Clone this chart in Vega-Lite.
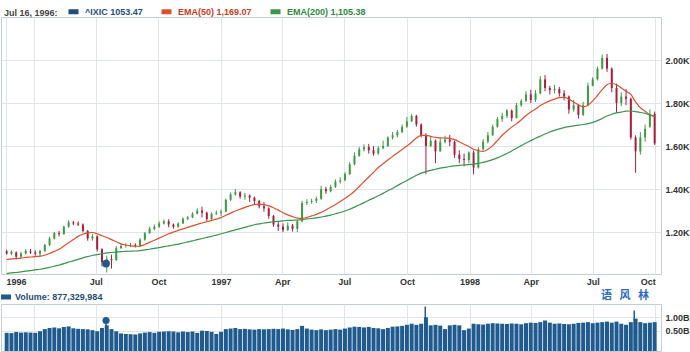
{
"$schema": "https://vega.github.io/schema/vega-lite/v6.json",
"padding": {"left": 0, "top": 4, "right": 2, "bottom": 0},
"background": "white",
"spacing": 2,
"config": {
  "font": "Liberation Sans",
  "view": {"stroke": "#c5ced6"},
  "axis": {"labelFont": "Liberation Sans", "labelFontSize": 9, "labelFontWeight": "bold", "labelColor": "#333333", "gridColor": "#dfe5ea", "gridOpacity": 1, "domain": false, "ticks": false, "title": null},
  "legend": {"labelFont": "Liberation Sans", "titleFont": "Liberation Sans", "padding": 0}
},
"datasets": {
"w": [
{"d":"1996/02/21","o":1110,"h":1118,"l":1095,"c":1100,"v":420,"e50":1072,"e200":1007},
{"d":"1996/02/28","o":1100,"h":1115,"l":1092,"c":1108,"v":410,"e50":1075,"e200":1010},
{"d":"1996/03/06","o":1105,"h":1110,"l":1072,"c":1085,"v":450,"e50":1077,"e200":1012},
{"d":"1996/03/13","o":1085,"h":1108,"l":1078,"c":1100,"v":430,"e50":1079,"e200":1015},
{"d":"1996/03/20","o":1100,"h":1120,"l":1095,"c":1112,"v":440,"e50":1082,"e200":1018},
{"d":"1996/03/27","o":1110,"h":1122,"l":1098,"c":1105,"v":430,"e50":1084,"e200":1021},
{"d":"1996/04/03","o":1105,"h":1115,"l":1090,"c":1100,"v":420,"e50":1086,"e200":1024},
{"d":"1996/04/10","o":1100,"h":1118,"l":1085,"c":1112,"v":480,"e50":1088,"e200":1027},
{"d":"1996/04/17","o":1112,"h":1145,"l":1108,"c":1140,"v":560,"e50":1092,"e200":1031},
{"d":"1996/04/24","o":1140,"h":1178,"l":1135,"c":1170,"v":600,"e50":1100,"e200":1036},
{"d":"1996/05/01","o":1170,"h":1200,"l":1165,"c":1195,"v":620,"e50":1110,"e200":1041},
{"d":"1996/05/08","o":1195,"h":1205,"l":1180,"c":1190,"v":590,"e50":1120,"e200":1047},
{"d":"1996/05/15","o":1190,"h":1230,"l":1188,"c":1225,"v":640,"e50":1135,"e200":1053},
{"d":"1996/05/22","o":1225,"h":1255,"l":1220,"c":1245,"v":660,"e50":1150,"e200":1060},
{"d":"1996/05/29","o":1245,"h":1252,"l":1232,"c":1240,"v":590,"e50":1165,"e200":1066},
{"d":"1996/06/05","o":1240,"h":1250,"l":1228,"c":1235,"v":570,"e50":1180,"e200":1073},
{"d":"1996/06/12","o":1235,"h":1240,"l":1198,"c":1205,"v":560,"e50":1190,"e200":1080},
{"d":"1996/06/19","o":1205,"h":1210,"l":1160,"c":1170,"v":550,"e50":1196,"e200":1086},
{"d":"1996/06/26","o":1170,"h":1190,"l":1160,"c":1180,"v":520,"e50":1198,"e200":1091},
{"d":"1996/07/03","o":1180,"h":1185,"l":1110,"c":1120,"v":480,"e50":1192,"e200":1095},
{"d":"1996/07/10","o":1120,"h":1125,"l":1040,"c":1060,"v":600,"e50":1183,"e200":1099},
{"d":"1996/07/17","o":1060,"h":1090,"l":1012,"c":1075,"v":700,"e50":1175,"e200":1103},
{"d":"1996/07/24","o":1075,"h":1095,"l":1030,"c":1070,"v":560,"e50":1165,"e200":1105},
{"d":"1996/07/31","o":1070,"h":1135,"l":1065,"c":1125,"v":480,"e50":1155,"e200":1107},
{"d":"1996/08/07","o":1125,"h":1145,"l":1122,"c":1135,"v":400,"e50":1145,"e200":1109},
{"d":"1996/08/14","o":1135,"h":1148,"l":1128,"c":1138,"v":380,"e50":1140,"e200":1110},
{"d":"1996/08/21","o":1138,"h":1150,"l":1130,"c":1140,"v":370,"e50":1136,"e200":1111},
{"d":"1996/08/28","o":1140,"h":1148,"l":1128,"c":1135,"v":360,"e50":1134,"e200":1112},
{"d":"1996/09/04","o":1135,"h":1172,"l":1130,"c":1165,"v":400,"e50":1135,"e200":1114},
{"d":"1996/09/11","o":1165,"h":1200,"l":1160,"c":1195,"v":430,"e50":1142,"e200":1117},
{"d":"1996/09/18","o":1195,"h":1225,"l":1192,"c":1215,"v":450,"e50":1152,"e200":1120},
{"d":"1996/09/25","o":1215,"h":1235,"l":1208,"c":1225,"v":420,"e50":1162,"e200":1124},
{"d":"1996/10/02","o":1225,"h":1250,"l":1220,"c":1240,"v":460,"e50":1172,"e200":1128},
{"d":"1996/10/09","o":1240,"h":1258,"l":1235,"c":1250,"v":470,"e50":1182,"e200":1132},
{"d":"1996/10/16","o":1250,"h":1260,"l":1222,"c":1235,"v":480,"e50":1192,"e200":1136},
{"d":"1996/10/23","o":1235,"h":1240,"l":1215,"c":1225,"v":470,"e50":1200,"e200":1140},
{"d":"1996/10/30","o":1225,"h":1245,"l":1220,"c":1240,"v":440,"e50":1208,"e200":1144},
{"d":"1996/11/06","o":1240,"h":1268,"l":1238,"c":1262,"v":470,"e50":1215,"e200":1149},
{"d":"1996/11/13","o":1262,"h":1275,"l":1255,"c":1268,"v":450,"e50":1222,"e200":1154},
{"d":"1996/11/20","o":1268,"h":1292,"l":1265,"c":1285,"v":470,"e50":1229,"e200":1159},
{"d":"1996/11/27","o":1285,"h":1310,"l":1282,"c":1300,"v":420,"e50":1236,"e200":1165},
{"d":"1996/12/04","o":1300,"h":1318,"l":1268,"c":1290,"v":500,"e50":1242,"e200":1170},
{"d":"1996/12/11","o":1290,"h":1295,"l":1250,"c":1260,"v":490,"e50":1248,"e200":1175},
{"d":"1996/12/18","o":1260,"h":1292,"l":1255,"c":1285,"v":460,"e50":1254,"e200":1180},
{"d":"1996/12/25","o":1285,"h":1300,"l":1280,"c":1290,"v":380,"e50":1260,"e200":1186},
{"d":"1997/01/01","o":1290,"h":1305,"l":1275,"c":1295,"v":460,"e50":1267,"e200":1192},
{"d":"1997/01/08","o":1295,"h":1355,"l":1292,"c":1350,"v":560,"e50":1278,"e200":1198},
{"d":"1997/01/15","o":1350,"h":1385,"l":1345,"c":1375,"v":580,"e50":1288,"e200":1204},
{"d":"1997/01/22","o":1375,"h":1400,"l":1370,"c":1385,"v":600,"e50":1298,"e200":1210},
{"d":"1997/01/29","o":1385,"h":1390,"l":1355,"c":1365,"v":560,"e50":1306,"e200":1216},
{"d":"1997/02/05","o":1365,"h":1382,"l":1350,"c":1370,"v":570,"e50":1315,"e200":1222},
{"d":"1997/02/12","o":1370,"h":1375,"l":1340,"c":1360,"v":550,"e50":1322,"e200":1228},
{"d":"1997/02/19","o":1360,"h":1365,"l":1330,"c":1345,"v":540,"e50":1328,"e200":1234},
{"d":"1997/02/26","o":1345,"h":1350,"l":1310,"c":1320,"v":560,"e50":1330,"e200":1238},
{"d":"1997/03/05","o":1320,"h":1340,"l":1295,"c":1310,"v":550,"e50":1328,"e200":1242},
{"d":"1997/03/12","o":1310,"h":1315,"l":1262,"c":1275,"v":560,"e50":1322,"e200":1245},
{"d":"1997/03/19","o":1275,"h":1280,"l":1225,"c":1235,"v":570,"e50":1313,"e200":1248},
{"d":"1997/03/26","o":1235,"h":1250,"l":1205,"c":1225,"v":560,"e50":1302,"e200":1250},
{"d":"1997/04/02","o":1225,"h":1240,"l":1200,"c":1210,"v":580,"e50":1290,"e200":1252},
{"d":"1997/04/09","o":1210,"h":1245,"l":1205,"c":1230,"v":550,"e50":1280,"e200":1254},
{"d":"1997/04/16","o":1230,"h":1238,"l":1202,"c":1215,"v":530,"e50":1272,"e200":1255},
{"d":"1997/04/23","o":1215,"h":1258,"l":1200,"c":1250,"v":560,"e50":1265,"e200":1256},
{"d":"1997/04/30","o":1250,"h":1345,"l":1245,"c":1335,"v":680,"e50":1263,"e200":1258},
{"d":"1997/05/07","o":1335,"h":1352,"l":1325,"c":1340,"v":580,"e50":1268,"e200":1261},
{"d":"1997/05/14","o":1340,"h":1355,"l":1332,"c":1345,"v":540,"e50":1275,"e200":1263},
{"d":"1997/05/21","o":1345,"h":1365,"l":1335,"c":1355,"v":520,"e50":1282,"e200":1266},
{"d":"1997/05/28","o":1355,"h":1415,"l":1350,"c":1400,"v":550,"e50":1292,"e200":1270},
{"d":"1997/06/04","o":1400,"h":1410,"l":1378,"c":1390,"v":520,"e50":1303,"e200":1274},
{"d":"1997/06/11","o":1390,"h":1420,"l":1385,"c":1410,"v":540,"e50":1315,"e200":1279},
{"d":"1997/06/18","o":1410,"h":1445,"l":1405,"c":1435,"v":560,"e50":1328,"e200":1285},
{"d":"1997/06/25","o":1435,"h":1455,"l":1425,"c":1440,"v":540,"e50":1342,"e200":1291},
{"d":"1997/07/02","o":1440,"h":1478,"l":1438,"c":1470,"v":580,"e50":1356,"e200":1298},
{"d":"1997/07/09","o":1470,"h":1525,"l":1465,"c":1515,"v":620,"e50":1372,"e200":1306},
{"d":"1997/07/16","o":1515,"h":1570,"l":1510,"c":1555,"v":650,"e50":1390,"e200":1316},
{"d":"1997/07/23","o":1555,"h":1595,"l":1550,"c":1585,"v":640,"e50":1412,"e200":1326},
{"d":"1997/07/30","o":1585,"h":1608,"l":1575,"c":1595,"v":620,"e50":1434,"e200":1337},
{"d":"1997/08/06","o":1595,"h":1610,"l":1565,"c":1580,"v":640,"e50":1456,"e200":1348},
{"d":"1997/08/13","o":1580,"h":1600,"l":1555,"c":1565,"v":600,"e50":1478,"e200":1358},
{"d":"1997/08/20","o":1565,"h":1600,"l":1560,"c":1590,"v":590,"e50":1500,"e200":1369},
{"d":"1997/08/27","o":1590,"h":1625,"l":1585,"c":1600,"v":560,"e50":1518,"e200":1380},
{"d":"1997/09/03","o":1600,"h":1645,"l":1595,"c":1640,"v":600,"e50":1535,"e200":1392},
{"d":"1997/09/10","o":1640,"h":1665,"l":1630,"c":1650,"v":650,"e50":1552,"e200":1403},
{"d":"1997/09/17","o":1650,"h":1675,"l":1640,"c":1665,"v":660,"e50":1568,"e200":1416},
{"d":"1997/09/24","o":1665,"h":1700,"l":1660,"c":1690,"v":680,"e50":1584,"e200":1428},
{"d":"1997/10/01","o":1690,"h":1735,"l":1685,"c":1715,"v":720,"e50":1600,"e200":1440},
{"d":"1997/10/08","o":1715,"h":1748,"l":1712,"c":1740,"v":760,"e50":1618,"e200":1452},
{"d":"1997/10/15","o":1740,"h":1745,"l":1690,"c":1700,"v":720,"e50":1637,"e200":1464},
{"d":"1997/10/22","o":1700,"h":1705,"l":1640,"c":1650,"v":760,"e50":1650,"e200":1474},
{"d":"1997/10/29","o":1650,"h":1660,"l":1470,"c":1600,"v":1000,"e50":1650,"e200":1481},
{"d":"1997/11/05","o":1600,"h":1645,"l":1595,"c":1625,"v":700,"e50":1645,"e200":1487},
{"d":"1997/11/12","o":1625,"h":1630,"l":1520,"c":1575,"v":720,"e50":1640,"e200":1492},
{"d":"1997/11/19","o":1575,"h":1640,"l":1575,"c":1620,"v":690,"e50":1638,"e200":1497},
{"d":"1997/11/26","o":1620,"h":1648,"l":1612,"c":1630,"v":560,"e50":1637,"e200":1501},
{"d":"1997/12/03","o":1630,"h":1652,"l":1600,"c":1620,"v":700,"e50":1636,"e200":1505},
{"d":"1997/12/10","o":1620,"h":1625,"l":1545,"c":1560,"v":720,"e50":1630,"e200":1508},
{"d":"1997/12/17","o":1560,"h":1580,"l":1520,"c":1540,"v":700,"e50":1620,"e200":1510},
{"d":"1997/12/24","o":1540,"h":1565,"l":1505,"c":1535,"v":520,"e50":1608,"e200":1512},
{"d":"1997/12/31","o":1535,"h":1575,"l":1520,"c":1570,"v":580,"e50":1598,"e200":1514},
{"d":"1998/01/07","o":1570,"h":1580,"l":1468,"c":1500,"v":760,"e50":1585,"e200":1516},
{"d":"1998/01/14","o":1500,"h":1595,"l":1495,"c":1585,"v":740,"e50":1578,"e200":1520},
{"d":"1998/01/21","o":1585,"h":1632,"l":1580,"c":1620,"v":730,"e50":1575,"e200":1524},
{"d":"1998/01/28","o":1620,"h":1665,"l":1612,"c":1650,"v":760,"e50":1585,"e200":1530},
{"d":"1998/02/04","o":1650,"h":1700,"l":1648,"c":1690,"v":780,"e50":1602,"e200":1537},
{"d":"1998/02/11","o":1690,"h":1735,"l":1685,"c":1725,"v":770,"e50":1625,"e200":1545},
{"d":"1998/02/18","o":1725,"h":1755,"l":1712,"c":1740,"v":760,"e50":1650,"e200":1555},
{"d":"1998/02/25","o":1740,"h":1772,"l":1730,"c":1765,"v":750,"e50":1670,"e200":1565},
{"d":"1998/03/04","o":1765,"h":1770,"l":1715,"c":1730,"v":770,"e50":1688,"e200":1577},
{"d":"1998/03/11","o":1730,"h":1800,"l":1728,"c":1790,"v":760,"e50":1703,"e200":1590},
{"d":"1998/03/18","o":1790,"h":1818,"l":1782,"c":1810,"v":740,"e50":1722,"e200":1602},
{"d":"1998/03/25","o":1810,"h":1855,"l":1805,"c":1840,"v":780,"e50":1742,"e200":1614},
{"d":"1998/04/01","o":1840,"h":1862,"l":1800,"c":1815,"v":800,"e50":1758,"e200":1625},
{"d":"1998/04/08","o":1815,"h":1860,"l":1805,"c":1845,"v":790,"e50":1772,"e200":1636},
{"d":"1998/04/15","o":1845,"h":1925,"l":1840,"c":1910,"v":820,"e50":1788,"e200":1646},
{"d":"1998/04/22","o":1910,"h":1930,"l":1855,"c":1870,"v":880,"e50":1800,"e200":1656},
{"d":"1998/04/29","o":1870,"h":1880,"l":1840,"c":1860,"v":800,"e50":1810,"e200":1665},
{"d":"1998/05/06","o":1860,"h":1885,"l":1845,"c":1865,"v":760,"e50":1818,"e200":1673},
{"d":"1998/05/13","o":1865,"h":1875,"l":1830,"c":1845,"v":770,"e50":1825,"e200":1680},
{"d":"1998/05/20","o":1845,"h":1860,"l":1812,"c":1830,"v":750,"e50":1826,"e200":1686},
{"d":"1998/05/27","o":1830,"h":1835,"l":1750,"c":1770,"v":740,"e50":1818,"e200":1690},
{"d":"1998/06/03","o":1770,"h":1815,"l":1760,"c":1790,"v":760,"e50":1805,"e200":1694},
{"d":"1998/06/10","o":1790,"h":1795,"l":1728,"c":1745,"v":790,"e50":1792,"e200":1697},
{"d":"1998/06/17","o":1745,"h":1805,"l":1740,"c":1790,"v":800,"e50":1782,"e200":1700},
{"d":"1998/06/24","o":1790,"h":1895,"l":1785,"c":1880,"v":820,"e50":1790,"e200":1704},
{"d":"1998/07/01","o":1880,"h":1920,"l":1878,"c":1910,"v":780,"e50":1810,"e200":1710},
{"d":"1998/07/08","o":1910,"h":1970,"l":1905,"c":1960,"v":800,"e50":1835,"e200":1718},
{"d":"1998/07/15","o":1960,"h":2025,"l":1955,"c":2010,"v":820,"e50":1862,"e200":1728},
{"d":"1998/07/22","o":2010,"h":2028,"l":1945,"c":1960,"v":840,"e50":1885,"e200":1740},
{"d":"1998/07/29","o":1960,"h":1965,"l":1850,"c":1870,"v":800,"e50":1892,"e200":1748},
{"d":"1998/08/05","o":1870,"h":1890,"l":1755,"c":1800,"v":840,"e50":1885,"e200":1754},
{"d":"1998/08/12","o":1800,"h":1850,"l":1785,"c":1830,"v":760,"e50":1870,"e200":1758},
{"d":"1998/08/19","o":1830,"h":1865,"l":1790,"c":1820,"v":720,"e50":1855,"e200":1762},
{"d":"1998/08/26","o":1820,"h":1825,"l":1630,"c":1640,"v":820,"e50":1840,"e200":1763},
{"d":"1998/09/02","o":1640,"h":1650,"l":1475,"c":1575,"v":950,"e50":1805,"e200":1760},
{"d":"1998/09/09","o":1575,"h":1665,"l":1560,"c":1640,"v":820,"e50":1778,"e200":1756},
{"d":"1998/09/16","o":1640,"h":1700,"l":1620,"c":1680,"v":780,"e50":1762,"e200":1752},
{"d":"1998/09/23","o":1690,"h":1770,"l":1685,"c":1750,"v":800,"e50":1745,"e200":1745},
{"d":"1998/09/30","o":1750,"h":1760,"l":1605,"c":1612,"v":820,"e50":1735,"e200":1738}
],
"peaks": [
{"d":"1996/07/16","v":877},
{"d":"1997/10/28","v":1400},
{"d":"1998/08/31","v":1250}
],
"sel": [
{"d":"1996/07/16","c":1053.47,"v":877.33}
]
},
"vconcat": [
{
  "width": 660,
  "height": 257,
  "data": {"name": "w"},
  "layer": [
    {
      "mark": {"type": "rule", "strokeWidth": 1},
      "encoding": {
        "x": {"field": "d", "type": "temporal",
          "scale": {"domain": [{"year": 1996, "month": 2, "date": 20}, {"year": 1998, "month": 10, "date": 2}]},
          "axis": {
            "values": [{"year": 1996, "month": 2, "date": 20}, {"year": 1996, "month": 4, "date": 1}, {"year": 1996, "month": 7, "date": 1}, {"year": 1996, "month": 10, "date": 1}, {"year": 1997, "month": 1, "date": 1}, {"year": 1997, "month": 4, "date": 1}, {"year": 1997, "month": 7, "date": 1}, {"year": 1997, "month": 10, "date": 1}, {"year": 1998, "month": 1, "date": 1}, {"year": 1998, "month": 4, "date": 1}, {"year": 1998, "month": 7, "date": 1}, {"year": 1998, "month": 10, "date": 1}],
            "labelExpr": "datum.value < datetime(1996, 1, 25) ? '1996' : datum.value < datetime(1996, 5, 1) ? '' : month(datum.value) == 0 ? timeFormat(datum.value, '%Y') : timeFormat(datum.value, '%b')",
            "labelAlign": {"condition": [{"test": "datum.value < datetime(1996, 1, 25)", "value": "left"}, {"test": "datum.value > datetime(1998, 8, 1)", "value": "right"}], "value": "center"},
            "labelFlush": false, "labelOverlap": false, "labelBound": false, "grid": true, "labelPadding": 3
          }
        },
        "y": {"field": "l", "type": "quantitative",
          "scale": {"domain": [1005, 2200], "nice": false, "zero": false},
          "axis": {"orient": "right", "values": [1200, 1400, 1600, 1800, 2000], "labelExpr": "format(datum.value / 1000, '.2f') + 'K'", "grid": true, "labelPadding": 4}
        },
        "y2": {"field": "h"},
        "color": {"condition": {"test": "datum.c >= datum.o", "value": "#3f9b42"}, "value": "#a8203c"}
      }
    },
    {
      "mark": {"type": "bar", "size": 2},
      "encoding": {
        "x": {"field": "d", "type": "temporal"},
        "y": {"field": "o", "type": "quantitative"},
        "y2": {"field": "c"},
        "color": {"condition": {"test": "datum.c >= datum.o", "value": "#3f9b42"}, "value": "#a8203c"}
      }
    },
    {
      "mark": {"type": "line", "strokeWidth": 1.2, "interpolate": "monotone"},
      "encoding": {
        "x": {"field": "d", "type": "temporal"},
        "y": {"field": "e50", "type": "quantitative"},
        "color": {"datum": "EMA(50) 1,169.07",
          "scale": {"domain": ["^IXIC 1053.47", "EMA(50) 1,169.07", "EMA(200) 1,105.38"], "range": ["#1f4e7c", "#e0502e", "#3a964c"]},
          "legend": {"title": "Jul 16, 1996:", "orient": "none", "legendX": 3, "legendY": -13, "direction": "horizontal", "titleOrient": "left", "titleBaseline": "middle",
            "titleColor": "#444444", "titleFontSize": 9, "titleFontWeight": "bold", "titlePadding": 8,
            "labelFontSize": 9, "labelFontWeight": "bold", "labelOffset": 4, "columnPadding": 8,
            "symbolType": "stroke", "symbolSize": 100, "symbolStrokeWidth": 5,
            "labelColor": {"expr": "datum.value == 'EMA(50) 1,169.07' ? '#d03a1e' : datum.value == 'EMA(200) 1,105.38' ? '#2e8a3e' : '#1f4e7c'"}
          }
        }
      }
    },
    {
      "mark": {"type": "line", "strokeWidth": 1.2, "interpolate": "monotone"},
      "encoding": {
        "x": {"field": "d", "type": "temporal"},
        "y": {"field": "e200", "type": "quantitative"},
        "color": {"datum": "EMA(200) 1,105.38"}
      }
    },
    {
      "data": {"name": "sel"},
      "mark": {"type": "point", "filled": true, "size": 60, "color": "#1f5a8c", "opacity": 1},
      "encoding": {
        "x": {"field": "d", "type": "temporal"},
        "y": {"field": "c", "type": "quantitative"}
      }
    }
  ]
},
{
  "width": 660,
  "height": 47,
  "title": {"text": "语\u00a0\u00a0\u00a0风\u00a0\u00a0\u00a0林", "anchor": "end", "frame": "group", "color": "#2c6dc0", "font": "Noto Sans CJK SC", "fontSize": 11, "fontWeight": "bold", "offset": 3, "dx": -12},
  "layer": [
    {
      "data": {"name": "w"},
      "mark": {"type": "bar", "size": 4},
      "encoding": {
        "x": {"field": "d", "type": "temporal",
          "scale": {"domain": [{"year": 1996, "month": 2, "date": 20}, {"year": 1998, "month": 10, "date": 2}]},
          "axis": {
            "values": [{"year": 1996, "month": 4, "date": 1}, {"year": 1996, "month": 7, "date": 1}, {"year": 1996, "month": 10, "date": 1}, {"year": 1997, "month": 1, "date": 1}, {"year": 1997, "month": 4, "date": 1}, {"year": 1997, "month": 7, "date": 1}, {"year": 1997, "month": 10, "date": 1}, {"year": 1998, "month": 1, "date": 1}, {"year": 1998, "month": 4, "date": 1}, {"year": 1998, "month": 7, "date": 1}, {"year": 1998, "month": 10, "date": 1}],
            "labels": false, "grid": true
          }
        },
        "y": {"field": "v", "type": "quantitative",
          "scale": {"domain": [-257, 1496], "nice": false, "zero": false},
          "axis": {"orient": "right", "values": [500, 1000], "labelExpr": "format(datum.value / 1000, '.2f') + 'B'", "grid": true, "labelPadding": 4}
        },
        "y2": {"datum": -257},
        "fill": {"datum": "Volume: 877,329,984",
          "scale": {"range": ["#1f5b8e"]},
          "legend": {"title": null, "orient": "none", "legendX": 0, "legendY": 275,
            "symbolType": "M-1,-0.5H1V0.5H-1Z", "symbolSize": 100, "symbolStrokeWidth": 0,
            "labelColor": "#1f4e7c", "labelFontSize": 9, "labelFontWeight": "bold", "labelOffset": 4}
        }
      }
    },
    {
      "data": {"name": "peaks"},
      "mark": {"type": "bar", "size": 1.5, "color": "#1f5b8e"},
      "encoding": {
        "x": {"field": "d", "type": "temporal"},
        "y": {"field": "v", "type": "quantitative"},
        "y2": {"datum": -257}
      }
    },
    {
      "data": {"name": "sel"},
      "mark": {"type": "point", "filled": true, "size": 50, "color": "#1f5b8e", "opacity": 1},
      "encoding": {
        "x": {"field": "d", "type": "temporal"},
        "y": {"field": "v", "type": "quantitative"}
      }
    }
  ]
}
]
}
